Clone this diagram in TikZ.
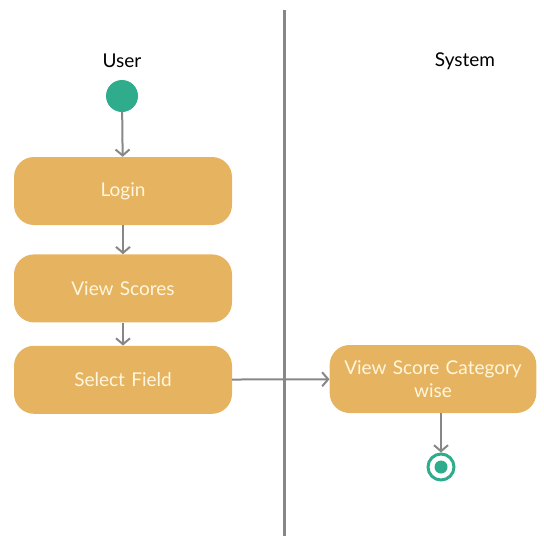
\documentclass[tikz,border=0pt]{standalone}
\usepackage{fontspec}
\setmainfont{Lato}
\usetikzlibrary{arrows.meta,positioning}
\definecolor{boxfill}{RGB}{230,180,96}
\definecolor{boxtext}{RGB}{255,246,222}
\definecolor{startteal}{RGB}{47,172,140}
\definecolor{linegray}{RGB}{135,135,135}
\begin{document}
\begin{tikzpicture}[
    x=1pt, y=-1pt,
    node distance=26pt,
    >={Straight Barb[length=6pt,width=14pt]},
    action/.style={
        rectangle,
        rounded corners=20pt,
        fill=boxfill,
        text=boxtext,
        align=center,
        minimum width=218pt,
        minimum height=68pt,
        text width=205pt,
        font=\fontsize{19}{23}\selectfont
    },
    lane/.style={font=\fontsize{19}{22}\selectfont},
    line/.style={draw=linegray, line width=2pt, ->}
]
\useasboundingbox (0,0) rectangle (544,536);

% Swimlane divider and titles
\draw[linegray, line width=3pt] (284,10) -- (284,536);
\node[lane] (user) at (122,61) {User};
\node[lane] (system) at (465,61) {System};

% Start node
\node[circle, fill=startteal, minimum size=32pt, inner sep=0pt] (start) at (122,96) {};

% Actions
\node[action] (login) at (123,191) {Login};
\node[action, below=29pt of login] (scores) {View Scores};
\node[action, below=23pt of scores] (field) {Select Field};
\node[action, minimum width=206pt, text width=200pt] (category) at (433,379) {View Score Category\\wise};

% End node
\node[circle, draw=startteal, line width=3pt, fill=white, minimum size=26pt, inner sep=0pt] (final) at (441,467) {};
\node[circle, fill=startteal, minimum size=13pt, inner sep=0pt] at (final) {};

% Flow arrows
\draw[line] (start) -- (login);
\draw[line] (login) -- (scores);
\draw[line] (scores) -- (field);
\draw[line] (field) -- (category);
\draw[line] (category.south -| final) -- (final);

\end{tikzpicture}
\end{document}
